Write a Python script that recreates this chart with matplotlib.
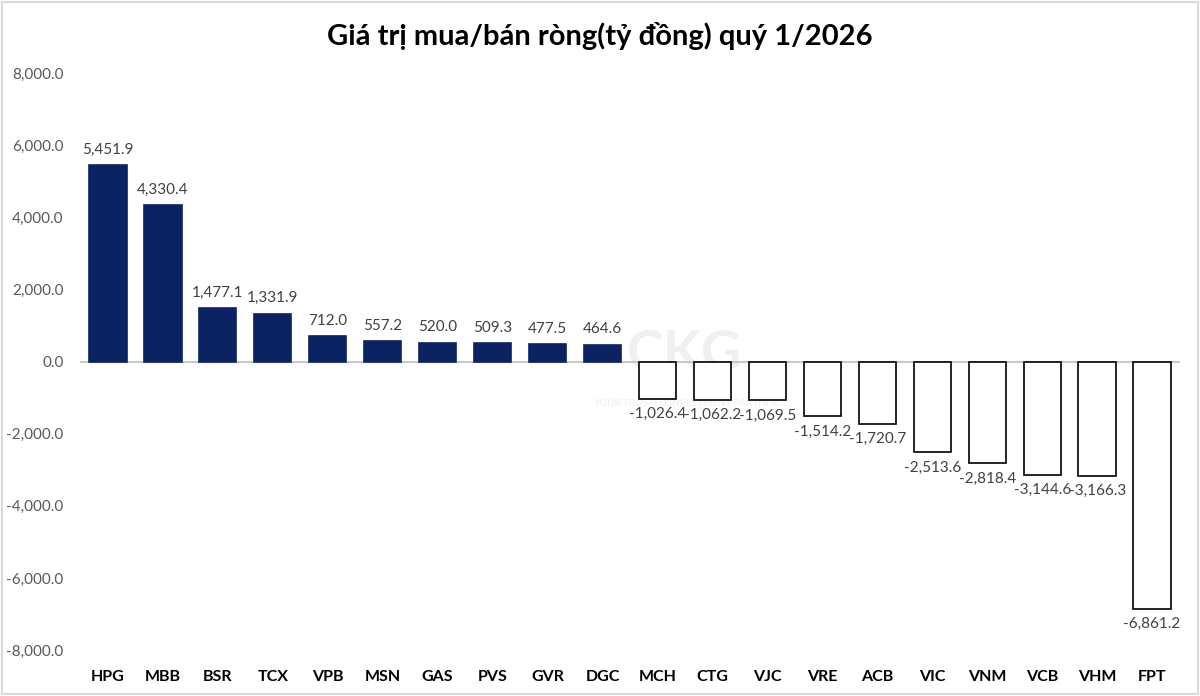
import matplotlib.pyplot as plt
import matplotlib.patches as patches
import numpy as np

plt.rcParams['font.family'] = ['Lato', 'DejaVu Sans']

tickers = ['HPG', 'MBB', 'BSR', 'TCX', 'VPB', 'MSN', 'GAS', 'PVS', 'GVR', 'DGC',
           'MCH', 'CTG', 'VJC', 'VRE', 'ACB', 'VIC', 'VNM', 'VCB', 'VHM', 'FPT']
values = [5451.9, 4330.4, 1477.1, 1331.9, 712.0, 557.2, 520.0, 509.3, 477.5, 464.6,
          -1026.4, -1062.2, -1069.5, -1514.2, -1720.7, -2513.6, -2818.4, -3144.6, -3166.3, -6861.2]

fig = plt.figure(figsize=(12, 6.96), dpi=100)
ax = fig.add_axes([0.067, 0.066, 0.916, 0.829])

x = np.arange(len(tickers))
pos = [v > 0 for v in values]
colors = ['#0b2363' if p else 'white' for p in pos]
edges = ['#0b2363' if p else 'black' for p in pos]
bars = ax.bar(x, values, width=0.68, color=colors, edgecolor=edges, linewidth=1.2, zorder=3)

for xi, v in zip(x, values):
    txt = f'{v:,.1f}'
    if v > 0:
        ax.annotate(txt, (xi, v), xytext=(0, 6), textcoords='offset points',
                    ha='center', va='bottom', fontsize=11, color='#404040')
    else:
        ax.annotate(txt, (xi, v), xytext=(0, -6), textcoords='offset points',
                    ha='center', va='top', fontsize=11, color='#404040')

ax.axhline(0, color='#bfbfbf', linewidth=1.2, zorder=2)
ax.set_xlim(-0.5, len(tickers) - 0.5)
ax.set_ylim(-8000, 8000)
ax.set_yticks(np.arange(-8000, 8001, 2000))
ax.set_yticklabels([f'{t:,.1f}' for t in np.arange(-8000, 8001, 2000)], fontsize=11, color='#595959')
ax.set_xticks(x)
ax.set_xticklabels(tickers, fontsize=11.5, fontweight='bold', color='black')
ax.tick_params(axis='both', length=0)
ax.tick_params(axis='x', pad=14)
ax.tick_params(axis='y', pad=12)
for s in ax.spines.values():
    s.set_visible(False)

# faint watermark
ax.text(10.5, 200, 'CKG', fontsize=40, fontweight='bold', color='#f0f0f0',
        ha='center', va='center', zorder=1)
ax.text(10.5, -1150, 'YOUR TRUSTED INVESTMENT PARTNER', fontsize=7, fontweight='bold',
        color='#f2f2f2', ha='center', va='center', zorder=1)

fig.text(0.5, 0.948, 'Giá trị mua/bán ròng(tỷ đồng) quý 1/2026', ha='center', va='center',
         fontsize=21, fontweight='bold', color='black')

fig.patches.append(patches.Rectangle((0.002, 0.003), 0.996, 0.994, transform=fig.transFigure,
                                     fill=False, edgecolor='#d9d9d9', linewidth=1.5))

fig.savefig('out.png', dpi=100)
